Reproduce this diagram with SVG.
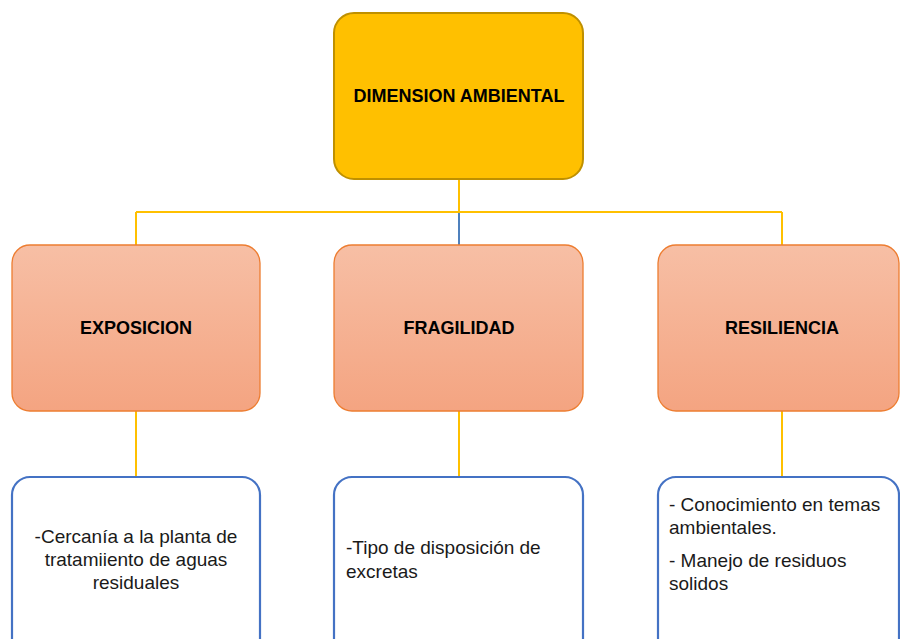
<svg xmlns="http://www.w3.org/2000/svg" width="900" height="639" viewBox="0 0 900 639">
<defs>
<linearGradient id="gOr" x1="0" y1="0" x2="0" y2="1">
<stop offset="0" stop-color="#F7BFA5"/>
<stop offset="1" stop-color="#F4A481"/>
</linearGradient>
</defs>
<style>
.top{fill:#FFC000;stroke:#BF9000;stroke-width:2}
.mid{fill:url(#gOr);stroke:#ED7D31;stroke-width:1.3}
.bot{fill:#FFFFFF;stroke:#4472C4;stroke-width:2.2}
.lbl{font-family:"Liberation Sans",Arial,sans-serif;font-weight:bold;font-size:18px;fill:#000;text-anchor:middle}
.txt{font-family:"Liberation Sans",Arial,sans-serif;font-size:19px;fill:#1a1a1a}
.c{text-anchor:middle}
.con{stroke:#FFC000;stroke-width:2;fill:none}
.conb{stroke:#4F81BD;stroke-width:2;fill:none}
</style>
<rect width="900" height="639" fill="#FFFFFF"/>
<g id="connectors">
<path class="con" d="M459 179 V212 M136 212 H782 M136 212 V245 M782 212 V245"/>
<path class="conb" d="M459 213 V245"/>
<path class="con" d="M136 411 V477 M459 411 V477 M782 411 V477"/>
</g>
<g id="dimension-ambiental">
<rect class="top" x="334" y="13" width="249" height="166" rx="20"/>
<text class="lbl" x="459" y="102">DIMENSION AMBIENTAL</text>
</g>
<g id="exposicion">
<rect class="mid" x="12" y="245" width="248" height="166" rx="18"/>
<text class="lbl" x="136" y="334">EXPOSICION</text>
</g>
<g id="fragilidad">
<rect class="mid" x="334" y="245" width="249" height="166" rx="18"/>
<text class="lbl" x="459" y="334">FRAGILIDAD</text>
</g>
<g id="resiliencia">
<rect class="mid" x="658" y="245" width="241" height="166" rx="18"/>
<text class="lbl" x="782" y="334">RESILIENCIA</text>
</g>
<g id="exposicion-detalle">
<rect class="bot" x="12" y="477" width="248" height="190" rx="18"/>
<text class="txt c" x="136" y="543">-Cercanía a la planta de</text>
<text class="txt c" x="136" y="566">tratamiiento de aguas</text>
<text class="txt c" x="136" y="589">residuales</text>
</g>
<g id="fragilidad-detalle">
<rect class="bot" x="334" y="477" width="249" height="190" rx="18"/>
<text class="txt" x="346" y="554">-Tipo de disposición de</text>
<text class="txt" x="346" y="578">excretas</text>
</g>
<g id="resiliencia-detalle">
<rect class="bot" x="658" y="477" width="241" height="190" rx="18"/>
<text class="txt" x="669" y="511">- Conocimiento en temas</text>
<text class="txt" x="669" y="534">ambientales.</text>
<text class="txt" x="669" y="567">- Manejo de residuos</text>
<text class="txt" x="669" y="590">solidos</text>
</g>
</svg>
